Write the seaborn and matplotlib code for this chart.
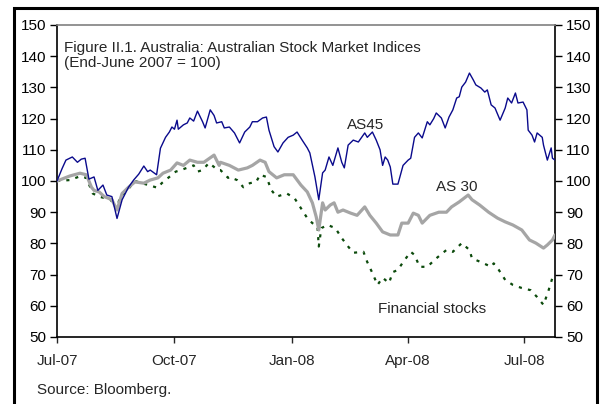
import matplotlib
matplotlib.use("Agg")
import matplotlib.pyplot as plt
from matplotlib.patches import Rectangle
import seaborn as sns
import pandas as pd

# ---- data ----
as45_dates = ["2007-07-01", "2007-07-05", "2007-07-08", "2007-07-13", "2007-07-17", "2007-07-20", "2007-07-23",
              "2007-07-26", "2007-07-30", "2007-08-02", "2007-08-06", "2007-08-09", "2007-08-13", "2007-08-17",
              "2007-08-21", "2007-08-26", "2007-08-30", "2007-09-03", "2007-09-07", "2007-09-10", "2007-09-12",
              "2007-09-17", "2007-09-20", "2007-09-24", "2007-09-27", "2007-09-29", "2007-10-01", "2007-10-03",
              "2007-10-04", "2007-10-08", "2007-10-11", "2007-10-13", "2007-10-16", "2007-10-19", "2007-10-23",
              "2007-10-25", "2007-10-29", "2007-11-01", "2007-11-03", "2007-11-07", "2007-11-09", "2007-11-13",
              "2007-11-17", "2007-11-21", "2007-11-25", "2007-11-29", "2007-12-01", "2007-12-05", "2007-12-09",
              "2007-12-12", "2007-12-14", "2007-12-18", "2007-12-21", "2007-12-25", "2007-12-29", "2008-01-02",
              "2008-01-05", "2008-01-09", "2008-01-13", "2008-01-15", "2008-01-19", "2008-01-22", "2008-01-25",
              "2008-01-27", "2008-01-30", "2008-02-02", "2008-02-06", "2008-02-09", "2008-02-11", "2008-02-14",
              "2008-02-18", "2008-02-22", "2008-02-27", "2008-02-29", "2008-03-04", "2008-03-07", "2008-03-10",
              "2008-03-12", "2008-03-14", "2008-03-16", "2008-03-18", "2008-03-20", "2008-03-24", "2008-03-28",
              "2008-04-01", "2008-04-03", "2008-04-06", "2008-04-09", "2008-04-12", "2008-04-16", "2008-04-18",
              "2008-04-21", "2008-04-23", "2008-04-27", "2008-04-30", "2008-05-03", "2008-05-06", "2008-05-09",
              "2008-05-11", "2008-05-13", "2008-05-16", "2008-05-19", "2008-05-22", "2008-05-24", "2008-05-28",
              "2008-05-31", "2008-06-02", "2008-06-05", "2008-06-08", "2008-06-12", "2008-06-16", "2008-06-18",
              "2008-06-21", "2008-06-24", "2008-06-26", "2008-06-30", "2008-07-03", "2008-07-04", "2008-07-07",
              "2008-07-09", "2008-07-11", "2008-07-15", "2008-07-16", "2008-07-19", "2008-07-22", "2008-07-23",
              "2008-07-25"]
as45_values = [100, 104, 106.7, 107.7, 106, 107, 107.3,
               100.6, 101.3, 97, 98.7, 95.5, 95, 88,
               94, 98, 100.3, 102.2, 104.8, 103, 103.5,
               102, 110.5, 114, 115.7, 117.3, 116.6, 119.5,
               116.6, 118, 118.6, 120.2, 119.2, 122.4, 119,
               117, 122.8, 121, 118.6, 119, 117, 117.3,
               115.4, 112.2, 115.7, 117.3, 119, 119, 120.2,
               120.5, 116.3, 111, 109.3, 112.2, 114, 114.7,
               115.7, 113.1, 110.6, 109, 101.3, 94, 102.6,
               103.5, 107.7, 105, 110.6, 106, 104.2, 111.5,
               113.1, 112.5, 115.4, 114, 115.7, 113.1, 110,
               105, 107.7, 106.7, 104.5, 99, 99, 105,
               106.7, 107.3, 114, 115.4, 113.8, 119, 118,
               120, 121.8, 120.2, 117, 120.5, 122.8, 126.6,
               127, 130.1, 131.7, 134.6, 132.4, 130.8, 129.8,
               128.5, 129.2, 124.4, 123.4, 119.5, 123.4, 126.6,
               125, 128.2, 125, 125.3, 122.8, 116.3, 114.7,
               112.5, 115.4, 114, 111.5, 106.7, 110.6, 107.3,
               106.7]

as30_dates = ["2007-07-01", "2007-07-11", "2007-07-19", "2007-07-24", "2007-07-28", "2007-07-30", "2007-08-03",
              "2007-08-07", "2007-08-13", "2007-08-17", "2007-08-21", "2007-08-26", "2007-08-31", "2007-09-07",
              "2007-09-12", "2007-09-18", "2007-09-22", "2007-09-28", "2007-10-03", "2007-10-08", "2007-10-13",
              "2007-10-19", "2007-10-24", "2007-11-01", "2007-11-05", "2007-11-06", "2007-11-13", "2007-11-20",
              "2007-11-27", "2007-12-01", "2007-12-07", "2007-12-11", "2007-12-14", "2007-12-20", "2007-12-26",
              "2008-01-02", "2008-01-08", "2008-01-13", "2008-01-17", "2008-01-20", "2008-01-22", "2008-01-25",
              "2008-01-27", "2008-01-31", "2008-02-03", "2008-02-06", "2008-02-10", "2008-02-16", "2008-02-21",
              "2008-02-27", "2008-03-02", "2008-03-07", "2008-03-12", "2008-03-18", "2008-03-24", "2008-03-27",
              "2008-04-01", "2008-04-05", "2008-04-09", "2008-04-12", "2008-04-18", "2008-04-25", "2008-05-01",
              "2008-05-05", "2008-05-11", "2008-05-18", "2008-05-21", "2008-05-27", "2008-06-03", "2008-06-10",
              "2008-06-16", "2008-06-22", "2008-06-29", "2008-07-05", "2008-07-10", "2008-07-16", "2008-07-19",
              "2008-07-23", "2008-07-25"]
as30_values = [100, 101.6, 102.5, 102, 98, 97, 96.5,
               95, 94, 90.7, 96, 98, 99.7, 99.3,
               100.3, 101, 102.5, 103.5, 105.8, 105, 106.7,
               106, 106, 108.3, 105, 106, 105, 103.5,
               104.2, 105, 106.7, 106, 103, 101, 102,
               102, 98.7, 96.5, 93, 88.5, 84.3, 93,
               90.7, 92.3, 93, 90, 90.7, 89.7, 89,
               91.7, 89, 86.5, 83.7, 82.7, 82.7, 86.5,
               86.5, 89.7, 89, 86.5, 89, 90, 90,
               91.7, 93.3, 95.5, 94, 92.3, 90, 88.1,
               86.9, 85.9, 84.3, 81.1, 80.1, 78.5, 79.5,
               81.1, 82.7]

fin_dates = ["2007-07-01", "2007-07-11", "2007-07-19", "2007-07-24", "2007-07-29", "2007-08-03", "2007-08-12",
             "2007-08-17", "2007-08-19", "2007-08-26", "2007-08-31", "2007-09-08", "2007-09-18", "2007-09-21",
             "2007-10-02", "2007-10-06", "2007-10-16", "2007-10-19", "2007-10-23", "2007-10-28", "2007-11-04",
             "2007-11-06", "2007-11-12", "2007-11-13", "2007-11-19", "2007-11-24", "2007-11-29", "2007-12-04",
             "2007-12-07", "2007-12-12", "2007-12-16", "2007-12-20", "2007-12-28", "2008-01-03", "2008-01-08",
             "2008-01-13", "2008-01-17", "2008-01-21", "2008-01-22", "2008-01-24", "2008-01-29", "2008-02-04",
             "2008-02-09", "2008-02-14", "2008-02-18", "2008-02-26", "2008-02-29", "2008-03-04", "2008-03-08",
             "2008-03-12", "2008-03-17", "2008-03-20", "2008-03-24", "2008-03-28", "2008-04-03", "2008-04-06",
             "2008-04-10", "2008-04-16", "2008-04-23", "2008-05-01", "2008-05-06", "2008-05-13", "2008-05-19",
             "2008-05-21", "2008-05-28", "2008-06-05", "2008-06-07", "2008-06-11", "2008-06-16", "2008-06-22",
             "2008-06-29", "2008-07-06", "2008-07-11", "2008-07-16", "2008-07-20", "2008-07-23", "2008-07-25"]
fin_values = [100, 100.3, 101.5, 101, 96, 95, 94,
              91, 94.5, 97.5, 100, 99, 97.8, 99.3,
              103, 103.5, 105, 103, 103.5, 105.8, 103.5,
              103.5, 101, 101.3, 100.3, 98, 99.3, 99.7,
              102, 101.3, 97, 95, 96, 94.5, 91.3,
              88.1, 86.5, 85.3, 79, 84.9, 85.9, 84.9,
              81.7, 79, 77, 77.3, 74, 70.5, 66.7,
              69, 67.3, 70.8, 71.5, 74, 77.3, 76.3,
              72.5, 72.5, 75.2, 77.9, 77.3, 80.1, 77.9,
              75.2, 74, 72.5, 73.6, 71.5, 68.3, 66.7,
              65.7, 65, 62.8, 60.3, 65, 69, 70]

x_tick_dates = ["2007-07-01", "2007-10-01", "2008-01-01", "2008-04-01", "2008-07-01"]
x_tick_labels = ["Jul-07", "Oct-07", "Jan-08", "Apr-08", "Jul-08"]
y_ticks = [50, 60, 70, 80, 90, 100, 110, 120, 130, 140, 150]

df45 = pd.DataFrame({"date": pd.to_datetime(as45_dates), "value": as45_values})
df30 = pd.DataFrame({"date": pd.to_datetime(as30_dates), "value": as30_values})
dffin = pd.DataFrame({"date": pd.to_datetime(fin_dates), "value": fin_values})

# ---- style ----
sns.set_style("white")
plt.rcParams["font.family"] = ["Liberation Sans", "DejaVu Sans"]
FS = 11

fig = plt.figure(figsize=(6.0, 4.04), dpi=100)
ax = fig.add_axes([57 / 600, 1 - 337 / 404, (555 - 57) / 600, (337 - 25) / 404])

sns.lineplot(data=dffin, x="date", y="value", ax=ax, color="#0b4a0b", lw=1.6,
             linestyle=(0, (1.4, 2.8)), zorder=2)
sns.lineplot(data=df30, x="date", y="value", ax=ax, color="#a5a5a5", lw=2.3, zorder=3)
sns.lineplot(data=df45, x="date", y="value", ax=ax, color="#0a0a8c", lw=1.0, zorder=4)

ax.set_xlim(pd.Timestamp("2007-07-01"), pd.Timestamp("2008-07-25"))
ax.set_ylim(50, 150)
ax.set_yticks(y_ticks)
ax.set_xticks(pd.to_datetime(x_tick_dates))
ax.set_xticklabels(x_tick_labels)
ax.set_xlabel("")
ax.set_ylabel("")

ax.yaxis.set_ticks_position("both")
ax.tick_params(axis="y", which="both", direction="out", length=5, width=1, colors="black",
               labelsize=FS, labelleft=True, labelright=True, pad=3, left=True, right=True)
ax.tick_params(axis="x", direction="out", length=4, width=1, labelsize=FS, pad=8, bottom=True)

for side in ["left", "bottom", "right"]:
    ax.spines[side].set_color("black")
    ax.spines[side].set_linewidth(1.2)
ax.spines["top"].set_color("#808080")
ax.spines["top"].set_linewidth(1.2)

ax.text(0.015, 0.95, "Figure II.1. Australia: Australian Stock Market Indices\n(End-June 2007 = 100)",
        transform=ax.transAxes, fontsize=FS, va="top", ha="left", linespacing=1.1)
ax.text(pd.Timestamp("2008-02-28"), 118, "AS45", fontsize=FS, ha="center", va="center")
ax.text(pd.Timestamp("2008-05-09"), 98, "AS 30", fontsize=FS, ha="center", va="center")
ax.text(pd.Timestamp("2008-04-20"), 59, "Financial stocks", fontsize=FS, ha="center", va="center")

fig.text(37 / 600, 1 - 390 / 404, "Source: Bloomberg.", fontsize=FS, ha="left", va="center")

border = Rectangle((13.5 / 600, -0.05), (597 - 13.5) / 600, 1.05 - 8 / 404,
                   transform=fig.transFigure, fill=False, edgecolor="black", lw=2.2, clip_on=False)
fig.patches.append(border)

fig.savefig("out.png", dpi=100, facecolor="white")
